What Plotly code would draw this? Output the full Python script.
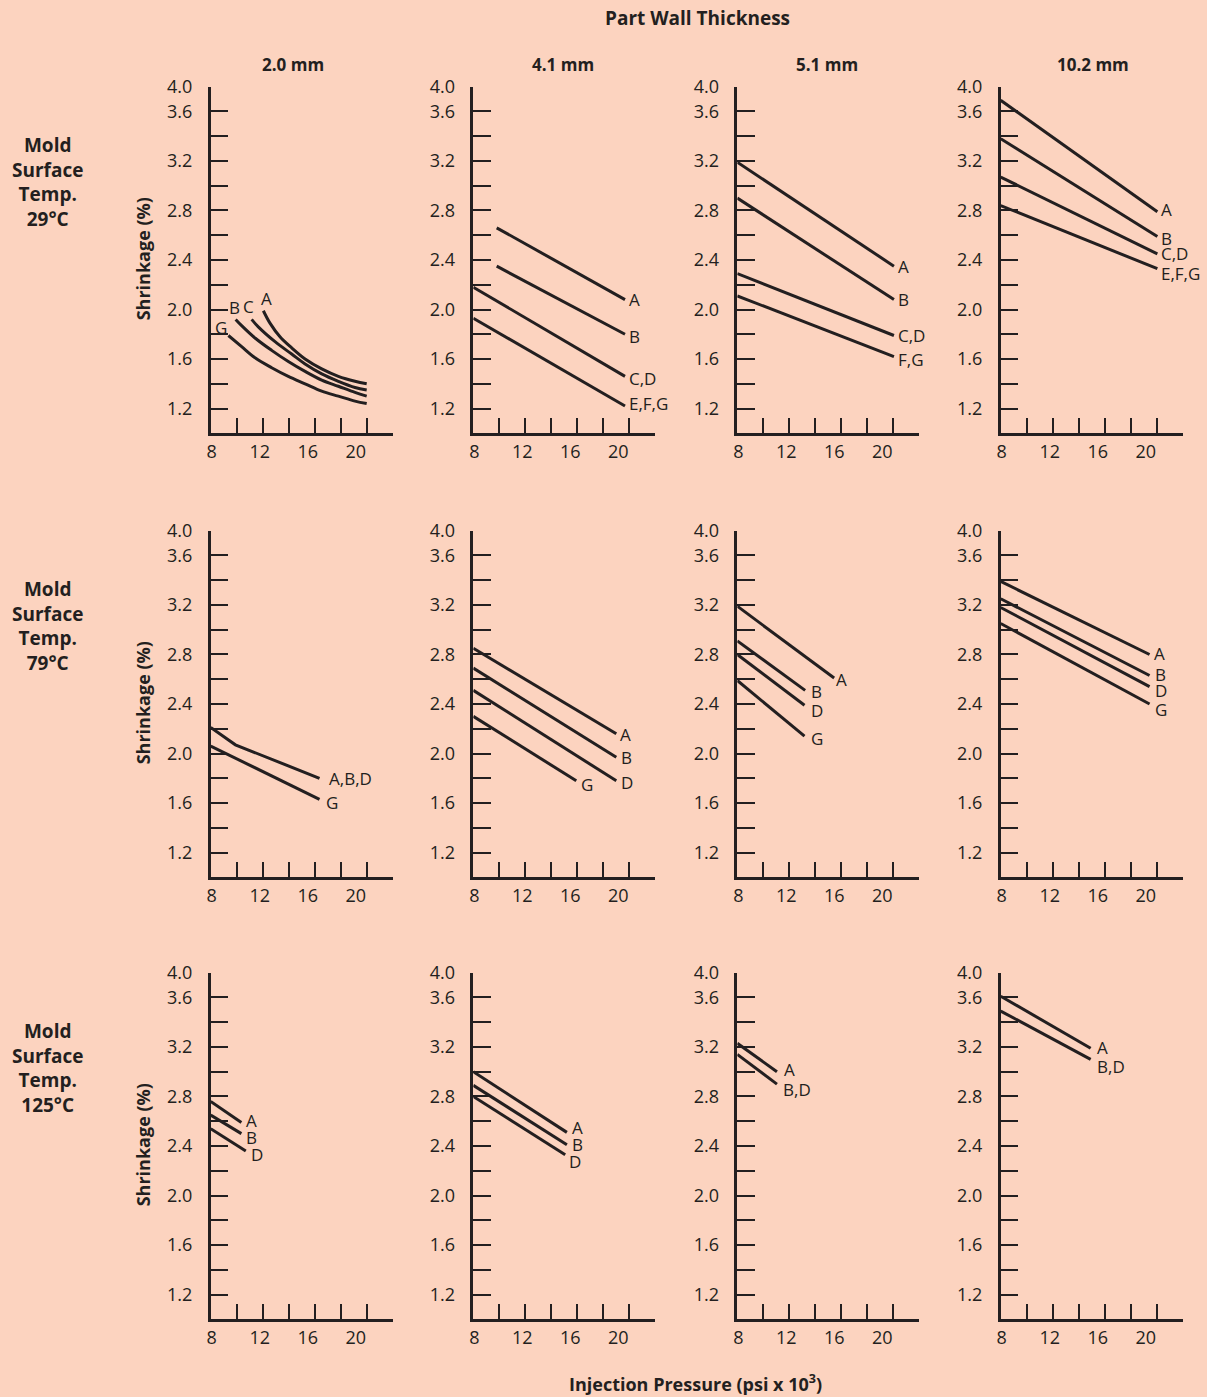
import plotly.graph_objects as go

# ---------------------------------------------------------------- data ----
MOLD_TEMPS = ["29°C", "79°C", "125°C"]
WALL_THICKNESS = ["2.0 mm", "4.1 mm", "5.1 mm", "10.2 mm"]

# Shrinkage axis: minor tick every 0.2 %, top tick carries the "4.0" label
Y_TICK_VALUES = [1.2, 1.4, 1.6, 1.8, 2.0, 2.2, 2.4, 2.6, 2.8, 3.0, 3.2, 3.4, 3.6, 3.8]
Y_TICK_TEXT = ["1.2", "", "1.6", "", "2.0", "", "2.4", "", "2.8", "", "3.2", "", "3.6", "4.0"]
# Injection pressure axis (psi x 1000)
X_TICK_MARKS = [10, 12, 14, 16, 18, 20]
X_TICK_LABELS = [8, 12, 16, 20]

# Each series: label -> (injection pressure, shrinkage %)
# Mold surface 29 °C
p29_20 = {
    "A": ([12.05, 12.56, 13.33, 14.23, 15.26, 16.54, 17.82, 19.1, 20.0],
          [1.99, 1.89, 1.78, 1.69, 1.60, 1.52, 1.46, 1.42, 1.40]),
    "C": ([11.15, 11.66, 12.95, 14.23, 15.26, 16.54, 17.82, 19.1, 20.0],
          [1.92, 1.86, 1.74, 1.64, 1.56, 1.48, 1.42, 1.37, 1.35]),
    "B": ([9.92, 10.38, 11.41, 12.69, 13.97, 15.26, 16.54, 17.82, 19.1, 20.0],
          [1.92, 1.87, 1.77, 1.67, 1.58, 1.50, 1.43, 1.38, 1.33, 1.30]),
    "G": ([9.36, 10.38, 11.41, 12.69, 13.97, 15.26, 16.54, 17.82, 19.1, 20.0],
          [1.79, 1.70, 1.61, 1.53, 1.46, 1.40, 1.34, 1.30, 1.26, 1.24]),
}
p29_41 = {
    "A": ([9.8, 19.67], [2.66, 2.08]),
    "B": ([9.8, 19.67], [2.35, 1.80]),
    "C,D": ([8.0, 19.67], [2.18, 1.46]),
    "E,F,G": ([8.0, 19.67], [1.93, 1.22]),
}
p29_51 = {
    "A": ([8.0, 20.05], [3.19, 2.35]),
    "B": ([8.0, 20.05], [2.90, 2.08]),
    "C,D": ([8.0, 20.05], [2.29, 1.79]),
    "F,G": ([8.0, 20.05], [2.11, 1.62]),
}
p29_102 = {
    "A": ([8.0, 20.05], [3.69, 2.79]),
    "B": ([8.0, 20.05], [3.38, 2.59]),
    "C,D": ([8.0, 20.05], [3.07, 2.45]),
    "E,F,G": ([8.0, 20.05], [2.84, 2.33]),
}
# Mold surface 79 °C
p79_20 = {
    "A,B,D": ([8.0, 9.9, 16.37], [2.21, 2.07, 1.80]),
    "G": ([8.0, 16.37], [2.06, 1.63]),
}
p79_41 = {
    "A": ([8.0, 19.0], [2.85, 2.16]),
    "B": ([8.0, 19.0], [2.69, 1.97]),
    "D": ([8.0, 19.0], [2.51, 1.78]),
    "G": ([8.0, 15.92], [2.30, 1.78]),
}
p79_51 = {
    "A": ([8.0, 15.45], [3.19, 2.61]),
    "B": ([8.0, 13.22], [2.91, 2.51]),
    "D": ([8.0, 13.17], [2.80, 2.39]),
    "G": ([8.0, 13.17], [2.59, 2.14]),
}
p79_102 = {
    "A": ([8.0, 19.45], [3.39, 2.80]),
    "B": ([8.0, 19.45], [3.25, 2.63]),
    "D": ([8.0, 19.45], [3.18, 2.54]),
    "G": ([8.0, 19.45], [3.05, 2.40]),
}
# Mold surface 125 °C
p125_20 = {
    "A": ([8.0, 10.36], [2.76, 2.59]),
    "B": ([8.0, 10.36], [2.65, 2.50]),
    "D": ([8.0, 10.7], [2.54, 2.36]),
}
p125_41 = {
    "A": ([8.0, 15.2], [3.00, 2.51]),
    "B": ([8.0, 15.2], [2.89, 2.41]),
    "D": ([8.0, 15.07], [2.80, 2.33]),
}
p125_51 = {
    "A": ([8.0, 11.05], [3.23, 3.00]),
    "B,D": ([8.0, 11.05], [3.14, 2.90]),
}
p125_102 = {
    "A": ([8.0, 14.92], [3.61, 3.19]),
    "B,D": ([8.0, 14.92], [3.49, 3.10]),
}

PANELS = [
    [p29_20, p29_41, p29_51, p29_102],
    [p79_20, p79_41, p79_51, p79_102],
    [p125_20, p125_41, p125_51, p125_102],
]

# --------------------------------------------------------------- style ----
INK = "#231f20"
PAPER = "#fcd3bf"
FONT = "Open Sans"
W, H = 1207, 1397

COL_LEFT = [210.7, 473.3, 737.3, 1000.7]   # px, left edge of each plot area
COL_TITLE_X = [293, 563, 827, 1093]        # px, centre of each column heading
ROW_TOP = [86.7, 530.7, 972.7]             # px, top edge of each plot area
PLOT_W, PLOT_H = 182.0, 346.6

X_RANGE = [8, 22]
Y_RANGE = [1.0, 3.8]
LABEL_PX_PER_UNIT = 12.0
LABEL_RANGE = [8 - 1 / LABEL_PX_PER_UNIT, 8 - 1 / LABEL_PX_PER_UNIT + PLOT_W / LABEL_PX_PER_UNIT]

CURVED = {(0, 0)}
# label offsets (x px right, y px down) relative to the end of each line
LABEL_SHIFT = {
    (0, 1): {"A": (3, 0), "B": (3, 2), "C,D": (3, 2), "E,F,G": (3, -3)},
    (0, 2): {"A": (3, 0), "B": (3, 0), "C,D": (3, 0), "F,G": (3, 3)},
    (0, 3): {"A": (3, -2), "B": (3, 2), "C,D": (3, 0), "E,F,G": (3, 5)},
    (1, 0): {"A,B,D": (8, 0), "G": (5, 3)},
    (1, 1): {"A": (3, 1), "B": (4, 0), "D": (4, 2), "G": (4, 4)},
    (1, 2): {"A": (1, 1), "B": (5, 1), "D": (5, 5), "G": (5, 2)},
    (1, 3): {"A": (3, -1), "B": (4, -1), "D": (4, 4), "G": (4, 5)},
    (2, 0): {"A": (4, -2), "B": (4, 4), "D": (4, 4)},
    (2, 1): {"A": (4, -5), "B": (4, 0), "D": (3, 7)},
    (2, 2): {"A": (6, -2), "B,D": (5, 5)},
    (2, 3): {"A": (5, -1), "B,D": (5, 7)},
}
# labels sitting above the start of each curve
START_LABEL_SHIFT = {"A": (3, -12), "C": (-3, -13), "B": (-1, -12), "G": (-7, -8)}
LABEL_SIZE = 17


def sfx(n):
    return "" if n == 1 else str(n)


fig = go.Figure()
axes = {}
annotations = []

for r in range(3):
    for c in range(4):
        n = r * 4 + c + 1
        m = 12 + n
        x0 = COL_LEFT[c] / W
        x1 = (COL_LEFT[c] + PLOT_W) / W
        y1 = 1 - ROW_TOP[r] / H
        y0 = 1 - (ROW_TOP[r] + PLOT_H) / H
        xa, ya = "x" + sfx(n), "y" + sfx(n)

        axes["xaxis" + sfx(n)] = dict(
            domain=[x0, x1], anchor=ya, range=X_RANGE, tickvals=X_TICK_MARKS,
            showticklabels=False, ticks="inside", ticklen=16, tickwidth=2.3,
            tickcolor=INK, showline=True, linewidth=2.5, linecolor=INK,
            showgrid=False, zeroline=False, fixedrange=True, automargin=False,
        )
        axes["yaxis" + sfx(n)] = dict(
            domain=[y0, y1], anchor=xa, range=Y_RANGE, tickvals=Y_TICK_VALUES,
            ticktext=Y_TICK_TEXT, ticks="inside", ticklen=18, tickwidth=2.3,
            tickcolor=INK, showline=True, linewidth=2.5, linecolor=INK,
            showgrid=False, zeroline=False, fixedrange=True, automargin=False,
            tickfont=dict(family=FONT, size=18, color=INK), ticklabelstandoff=12,
        )
        # pressure labels on their own overlaid axis
        axes["xaxis" + str(m)] = dict(
            overlaying=xa, anchor=ya, side="bottom", range=LABEL_RANGE,
            tickvals=X_TICK_LABELS, ticks="", showline=False, showgrid=False,
            zeroline=False, fixedrange=True, automargin=False,
            tickfont=dict(family=FONT, size=18, color=INK), ticklabelstandoff=6,
        )
        fig.add_trace(go.Scatter(x=[None], y=[None], xaxis="x" + str(m), yaxis=ya,
                                 showlegend=False, hoverinfo="skip"))

        curved = (r, c) in CURVED
        for name, (px, py) in PANELS[r][c].items():
            fig.add_trace(go.Scatter(
                x=px, y=py, xaxis=xa, yaxis=ya, mode="lines", showlegend=False,
                line=dict(color=INK, width=3, shape="spline" if curved else "linear",
                          smoothing=1.0 if curved else None),
                hoverinfo="skip",
            ))
            if curved:
                dx, dy = START_LABEL_SHIFT[name]
                annotations.append(dict(
                    x=px[0], y=py[0], xref=xa, yref=ya, text=name, showarrow=False,
                    xanchor="center", yanchor="middle", xshift=dx, yshift=-dy,
                    font=dict(family=FONT, size=LABEL_SIZE, color=INK),
                ))
            else:
                dx, dy = LABEL_SHIFT[(r, c)][name]
                annotations.append(dict(
                    x=px[-1], y=py[-1], xref=xa, yref=ya, text=name, showarrow=False,
                    xanchor="left", yanchor="middle", xshift=dx, yshift=-dy,
                    borderpad=0, font=dict(family=FONT, size=LABEL_SIZE, color=INK),
                ))

# row headings and shrinkage titles
for r, temp in enumerate(MOLD_TEMPS):
    annotations.append(dict(
        x=47 / W, y=1 - (ROW_TOP[r] + 94.8) / H, xref="paper", yref="paper",
        text="<b>Mold<br>Surface<br>Temp.<br>" + temp + "</b>", showarrow=False,
        xanchor="center", yanchor="middle", align="center",
        font=dict(family=FONT, size=19, color=INK),
    ))
    annotations.append(dict(
        x=143.3 / W, y=1 - (ROW_TOP[r] + 172.3) / H, xref="paper", yref="paper",
        text="<b>Shrinkage (%)</b>", textangle=-90, showarrow=False,
        xanchor="center", yanchor="middle",
        font=dict(family=FONT, size=18, color=INK),
    ))

# wall-thickness column headings
for c, wall in enumerate(WALL_THICKNESS):
    annotations.append(dict(
        x=COL_TITLE_X[c] / W, y=1 - 64 / H, xref="paper", yref="paper",
        text="<b>" + wall + "</b>", showarrow=False,
        xanchor="center", yanchor="middle",
        font=dict(family=FONT, size=17, color=INK),
    ))

annotations.append(dict(
    x=697 / W, y=1 - 18 / H, xref="paper", yref="paper",
    text="<b>Part Wall Thickness</b>", showarrow=False,
    xanchor="center", yanchor="middle", font=dict(family=FONT, size=19, color=INK),
))
annotations.append(dict(
    x=695 / W, y=1 - 1383 / H, xref="paper", yref="paper",
    text="<b>Injection Pressure (psi x 10<sup>3</sup>)</b>", showarrow=False,
    xanchor="center", yanchor="middle", font=dict(family=FONT, size=18, color=INK),
))

fig.update_layout(
    width=W, height=H,
    margin=dict(l=0, r=0, t=0, b=0, pad=0, autoexpand=False),
    paper_bgcolor=PAPER, plot_bgcolor=PAPER, showlegend=False,
    font=dict(family=FONT, color=INK), annotations=annotations, **axes,
)

fig.write_html("out.html")
